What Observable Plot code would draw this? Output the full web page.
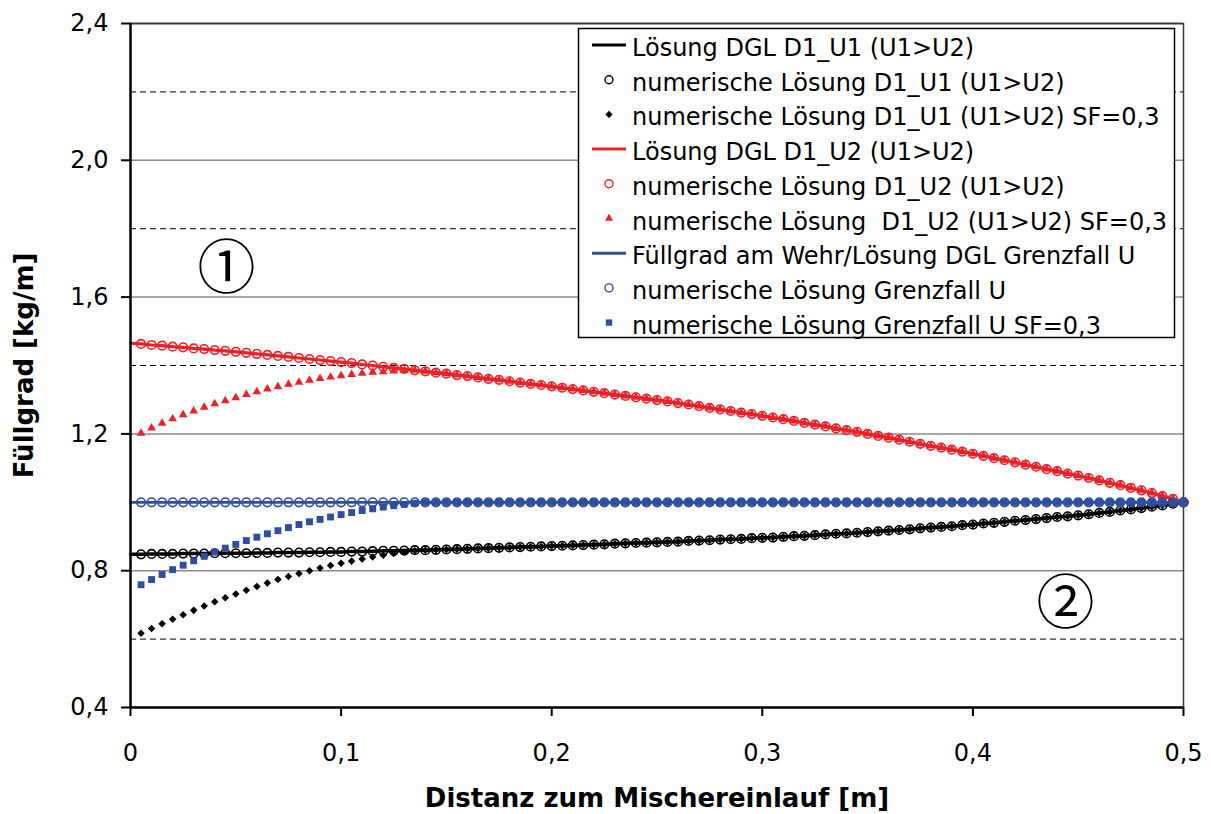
<!DOCTYPE html>
<html>
<head>
<meta charset="utf-8">
<script src="https://cdn.jsdelivr.net/npm/d3@7"></script>
<script src="https://cdn.jsdelivr.net/npm/@observablehq/plot@0.6"></script>
<style>
  html, body { margin: 0; padding: 0; background: #fff; }
  #chart { width: 1211px; height: 814px; }
</style>
</head>
<body>
<div id="chart"></div>
<script>
// Distance from the mixer inlet [m]
const distance = [
  0, 0.005, 0.01, 0.015, 0.02, 0.025, 0.03, 0.035, 0.04, 0.045,
  0.05, 0.055, 0.06, 0.065, 0.07, 0.075, 0.08, 0.085, 0.09, 0.095,
  0.1, 0.105, 0.11, 0.115, 0.12, 0.125, 0.13, 0.135, 0.14, 0.145,
  0.15, 0.155, 0.16, 0.165, 0.17, 0.175, 0.18, 0.185, 0.19, 0.195,
  0.2, 0.205, 0.21, 0.215, 0.22, 0.225, 0.23, 0.235, 0.24, 0.245,
  0.25, 0.255, 0.26, 0.265, 0.27, 0.275, 0.28, 0.285, 0.29, 0.295,
  0.3, 0.305, 0.31, 0.315, 0.32, 0.325, 0.33, 0.335, 0.34, 0.345,
  0.35, 0.355, 0.36, 0.365, 0.37, 0.375, 0.38, 0.385, 0.39, 0.395,
  0.4, 0.405, 0.41, 0.415, 0.42, 0.425, 0.43, 0.435, 0.44, 0.445,
  0.45, 0.455, 0.46, 0.465, 0.47, 0.475, 0.48, 0.485, 0.49, 0.495,
  0.5
];

// Fill level, ODE solution D1_U1 (U1>U2) [kg/m]
const dglU1 = [
  0.848, 0.848, 0.849, 0.849, 0.849, 0.850, 0.850, 0.850, 0.851, 0.851,
  0.851, 0.851, 0.852, 0.852, 0.853, 0.853, 0.853, 0.854, 0.854, 0.855,
  0.855, 0.856, 0.856, 0.857, 0.858, 0.858, 0.859, 0.860, 0.860, 0.861,
  0.862, 0.863, 0.864, 0.865, 0.866, 0.867, 0.868, 0.869, 0.870, 0.871,
  0.872, 0.873, 0.874, 0.875, 0.876, 0.877, 0.879, 0.880, 0.881, 0.882,
  0.883, 0.884, 0.885, 0.887, 0.888, 0.889, 0.891, 0.892, 0.893, 0.895,
  0.896, 0.897, 0.899, 0.901, 0.902, 0.904, 0.906, 0.908, 0.909, 0.911,
  0.913, 0.915, 0.917, 0.919, 0.921, 0.924, 0.926, 0.928, 0.930, 0.933,
  0.935, 0.938, 0.940, 0.943, 0.946, 0.948, 0.951, 0.954, 0.957, 0.959,
  0.962, 0.965, 0.969, 0.972, 0.976, 0.979, 0.983, 0.987, 0.991, 0.996,
  1.000
];

// Fill level, ODE solution D1_U2 (U1>U2) [kg/m]
const dglU2 = [
  1.465, 1.463, 1.460, 1.458, 1.455, 1.453, 1.450, 1.448, 1.445, 1.443,
  1.440, 1.437, 1.434, 1.431, 1.428, 1.425, 1.422, 1.419, 1.416, 1.413,
  1.410, 1.407, 1.403, 1.400, 1.396, 1.393, 1.390, 1.386, 1.383, 1.379,
  1.376, 1.372, 1.369, 1.365, 1.361, 1.358, 1.354, 1.350, 1.346, 1.343,
  1.339, 1.335, 1.331, 1.327, 1.323, 1.319, 1.315, 1.311, 1.307, 1.303,
  1.299, 1.295, 1.290, 1.286, 1.281, 1.276, 1.272, 1.267, 1.262, 1.258,
  1.253, 1.248, 1.243, 1.238, 1.232, 1.227, 1.222, 1.216, 1.211, 1.206,
  1.200, 1.194, 1.189, 1.183, 1.177, 1.171, 1.165, 1.160, 1.154, 1.148,
  1.142, 1.136, 1.129, 1.123, 1.117, 1.110, 1.104, 1.097, 1.091, 1.084,
  1.078, 1.071, 1.064, 1.057, 1.050, 1.042, 1.035, 1.027, 1.018, 1.010,
  1.000
];

// Fill level at the weir / limiting case U [kg/m]
const dglLimit = [
  1, 1, 1, 1, 1, 1, 1, 1, 1, 1,
  1, 1, 1, 1, 1, 1, 1, 1, 1, 1,
  1, 1, 1, 1, 1, 1, 1, 1, 1, 1,
  1, 1, 1, 1, 1, 1, 1, 1, 1, 1,
  1, 1, 1, 1, 1, 1, 1, 1, 1, 1,
  1, 1, 1, 1, 1, 1, 1, 1, 1, 1,
  1, 1, 1, 1, 1, 1, 1, 1, 1, 1,
  1, 1, 1, 1, 1, 1, 1, 1, 1, 1,
  1, 1, 1, 1, 1, 1, 1, 1, 1, 1,
  1, 1, 1, 1, 1, 1, 1, 1, 1, 1,
  1
];

// Numerical solutions with SF=0,3, x = 0,005 ... 0,135;
// from x = 0,14 on they coincide with the ODE solutions above
const sfU1Start = [
  0.617, 0.631, 0.645, 0.658, 0.671, 0.684, 0.697, 0.709, 0.721, 0.732,
  0.743, 0.754, 0.764, 0.774, 0.783, 0.792, 0.800, 0.808, 0.815, 0.822,
  0.828, 0.834, 0.840, 0.845, 0.850, 0.854, 0.858
];
const sfU2Start = [
  1.202, 1.217, 1.231, 1.244, 1.256, 1.267, 1.278, 1.288, 1.297, 1.306,
  1.315, 1.323, 1.331, 1.338, 1.345, 1.351, 1.357, 1.362, 1.366, 1.370,
  1.374, 1.377, 1.380, 1.382, 1.384, 1.385, 1.386
];
const sfLimitStart = [
  0.759, 0.774, 0.789, 0.803, 0.816, 0.829, 0.842, 0.854, 0.866, 0.877,
  0.888, 0.898, 0.908, 0.917, 0.926, 0.935, 0.943, 0.950, 0.957, 0.964,
  0.970, 0.976, 0.981, 0.986, 0.990, 0.994, 0.997
];

const xTicks = [0, 0.1, 0.2, 0.3, 0.4, 0.5];
const yTicks = [0.4, 0.8, 1.2, 1.6, 2.0, 2.4];
const yMajorGrid = [0.8, 1.2, 1.6, 2.0];
const yMinorGrid = [0.6, 1.0, 1.4, 1.8, 2.2];

const xTitle = "Distanz zum Mischereinlauf [m]";
const yTitle = "Füllgrad [kg/m]";

const colorU1 = "#000000";
const colorU2 = "#ee1f26";
const colorLimit = "#2f4f9e";

const legendLabels = [
  "Lösung DGL D1_U1 (U1>U2)",
  "numerische Lösung D1_U1 (U1>U2)",
  "numerische Lösung D1_U1 (U1>U2) SF=0,3",
  "Lösung DGL D1_U2 (U1>U2)",
  "numerische Lösung D1_U2 (U1>U2)",
  "numerische Lösung  D1_U2 (U1>U2) SF=0,3",
  "Füllgrad am Wehr/Lösung DGL Grenzfall U",
  "numerische Lösung Grenzfall U",
  "numerische Lösung Grenzfall U SF=0,3"
];
const legendKinds = ["line", "circle", "diamond", "line", "circle", "triangle", "line", "circle", "square"];
const legendColors = [colorU1, colorU1, colorU1, colorU2, colorU2, colorU2, colorLimit, colorLimit, colorLimit];

// Region markers ① and ②
const regionLabels = ["①", "②"];
const regionX = [0.0456, 0.444];
const regionY = [1.681, 0.701];

// ---- tables built from the arrays ----
const curve = (ys) => distance.map((x, i) => ({x, y: ys[i]}));
const numeric = (ys) => curve(ys).slice(1);
const sfSeries = (start, ys) =>
  distance.slice(1).map((x, i) => ({x, y: i < start.length ? start[i] : ys[i + 1]}));
const regions = regionLabels.map((t, i) => ({x: regionX[i], y: regionY[i], t}));

const comma = (d) => d === 0 ? "0" : d.toFixed(1).replace(".", ",");

const openCircle = (ys, color) =>
  Plot.dot(numeric(ys), {x: "x", y: "y", r: 4.3, stroke: color, strokeWidth: 1.6, fill: "none"});

const svg = Plot.plot({
  width: 1211,
  height: 814,
  marginLeft: 130,
  marginRight: 28,
  marginTop: 23,
  marginBottom: 107,
  style: {fontFamily: "DejaVu Sans", fontSize: "24px", background: "#fff", color: "#000", overflow: "visible"},
  x: {domain: [0, 0.5]},
  y: {domain: [0.4, 2.4]},
  marks: [
    Plot.ruleY(yMinorGrid, {stroke: "#000", strokeWidth: 1, strokeDasharray: "6,4"}),
    Plot.ruleY(yMajorGrid, {stroke: "#8a8a8a", strokeWidth: 1.5}),
    Plot.ruleY([2.4], {stroke: "#3a3a3a", strokeWidth: 2}),
    Plot.ruleX([0.5], {stroke: "#3a3a3a", strokeWidth: 1.5}),

    // D1_U1
    Plot.line(curve(dglU1), {x: "x", y: "y", stroke: colorU1, strokeWidth: 3.5}),
    openCircle(dglU1, colorU1),
    Plot.dot(sfSeries(sfU1Start, dglU1), {x: "x", y: "y", symbol: "diamond2", r: 3.4, fill: colorU1, stroke: "none"}),

    // D1_U2
    Plot.line(curve(dglU2), {x: "x", y: "y", stroke: colorU2, strokeWidth: 3.2}),
    openCircle(dglU2, colorU2),
    Plot.dot(sfSeries(sfU2Start, dglU2), {x: "x", y: "y", symbol: "triangle", r: 3.2, fill: colorU2, stroke: "none"}),

    // limiting case U
    Plot.line(curve(dglLimit), {x: "x", y: "y", stroke: colorLimit, strokeWidth: 2.8}),
    openCircle(dglLimit, colorLimit),
    Plot.dot(sfSeries(sfLimitStart, dglLimit), {x: "x", y: "y", symbol: "square", r: 3.9, fill: colorLimit, stroke: "none"}),

    Plot.axisY(yTicks, {tickSize: 9, tickPadding: 13, tickFormat: comma, strokeWidth: 2, label: null, fontSize: 24}),
    Plot.axisX(xTicks, {tickSize: 9, tickPadding: 27, tickFormat: comma, strokeWidth: 2, label: null, fontSize: 24}),
    Plot.ruleX([0], {stroke: "#000", strokeWidth: 2.5}),
    Plot.ruleY([0.4], {stroke: "#000", strokeWidth: 2.5}),

    Plot.text([xTitle], {frameAnchor: "bottom", textAnchor: "middle", lineAnchor: "middle", dy: 91, fontWeight: "bold", fontSize: 26}),
    Plot.text([yTitle], {frameAnchor: "left", textAnchor: "middle", lineAnchor: "middle", dx: -106, rotate: -90, fontWeight: "bold", fontSize: 26}),
    Plot.text(regions, {x: "x", y: "y", text: "t", fontSize: 58, fontFamily: "Noto Sans CJK JP"})
  ]
});

// ---- legend box in the upper right of the frame ----
const legend = d3.select(svg).append("g")
  .attr("font-family", "DejaVu Sans")
  .attr("font-size", 24)
  .attr("text-anchor", "start");
legend.append("rect")
  .attr("x", 578.5).attr("y", 28.5)
  .attr("width", 596).attr("height", 309)
  .attr("fill", "#fff").attr("stroke", "#000").attr("stroke-width", 1.5);

const symbolOf = {
  diamond: d3.symbol(d3.symbolDiamond2, Math.PI * 3.2 * 3.2),
  triangle: d3.symbol(d3.symbolTriangle, Math.PI * 3 * 3),
  square: d3.symbol(d3.symbolSquare, Math.PI * 3.6 * 3.6)
};

legendLabels.forEach((label, i) => {
  const cy = 45 + i * 34.7;
  const kind = legendKinds[i];
  const color = legendColors[i];
  if (kind === "line") {
    legend.append("line")
      .attr("x1", 592).attr("x2", 626).attr("y1", cy).attr("y2", cy)
      .attr("stroke", color).attr("stroke-width", 3);
  } else if (kind === "circle") {
    legend.append("circle")
      .attr("cx", 609).attr("cy", cy).attr("r", 4)
      .attr("fill", "none").attr("stroke", color).attr("stroke-width", 1.4);
  } else {
    legend.append("path")
      .attr("transform", `translate(609,${cy})`)
      .attr("d", symbolOf[kind]())
      .attr("fill", color);
  }
  legend.append("text")
    .attr("x", 632).attr("y", cy + 11)
    .attr("xml:space", "preserve")
    .style("white-space", "pre")
    .attr("fill", "#000")
    .text(label);
});

document.getElementById("chart").append(svg);
</script>
</body>
</html>
